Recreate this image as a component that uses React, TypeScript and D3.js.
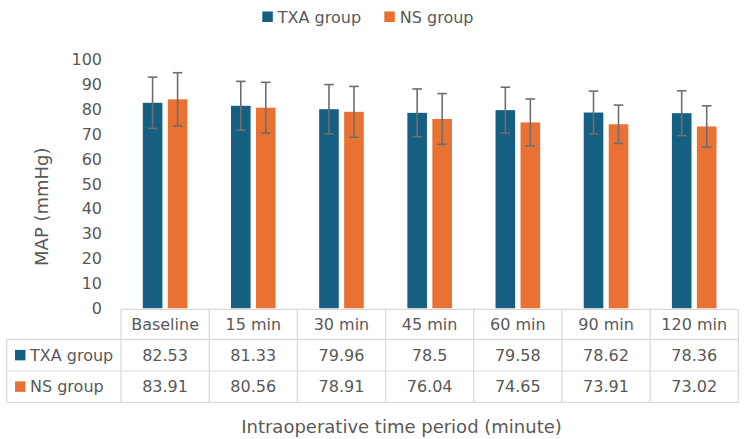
import React from "react";
import * as d3 from "d3";

const categories = ["Baseline", "15 min", "30 min", "45 min", "60 min", "90 min", "120 min"];
const seriesNames = ["TXA group", "NS group"];
const txaMeans = [82.53, 81.33, 79.96, 78.5, 79.58, 78.62, 78.36];
const nsMeans = [83.91, 80.56, 78.91, 76.04, 74.65, 73.91, 73.02];
const txaSD = [10.3, 9.8, 9.9, 9.6, 9.2, 8.6, 9.0];
const nsSD = [10.7, 10.2, 10.2, 10.2, 9.4, 7.7, 8.3];
const yTicks = [0, 10, 20, 30, 40, 50, 60, 70, 80, 90, 100];
const colors = ["#156082", "#E97132"];

const W = 750;
const H = 439;
const FONT = "'DejaVu Sans', sans-serif";
const TXT = "#595959";
const GRID = "#d9d9d9";

export default function App() {
  const plotLeft = 121;
  const plotRight = 738.3;
  const y = d3.scaleLinear().domain([0, 100]).range([308.3, 59.3]);
  const x = d3.scaleBand<string>().domain(categories).range([plotLeft, plotRight]).padding(0);
  const inner = d3
    .scaleBand<string>()
    .domain(seriesNames)
    .range([0, x.bandwidth()])
    .paddingInner(0.216)
    .paddingOuter(0.872);

  const means = [txaMeans, nsMeans];
  const sds = [txaSD, nsSD];

  const tableTop = 309.3;
  const rowTops = [tableTop, 339.3, 371, 402.3];
  const tableLeft = 6.7;

  return (
    <svg
      width={W}
      height={H}
      style={{ position: "absolute", left: 0, top: 0, background: "#fff" }}
      fontFamily={FONT}
    >
      {/* Legend */}
      {seriesNames.map((s, i) => {
        const lx = [262.3, 384.3][i];
        return (
          <g key={s}>
            <rect x={lx} y={11.5} width={10.5} height={10.5} fill={colors[i]} />
            <text x={lx + 15.5} y={22.5} fontSize={16} fill={TXT}>
              {s}
            </text>
          </g>
        );
      })}

      {/* Y ticks */}
      {yTicks.map((t) => (
        <text key={t} x={102} y={y(t)} dy="0.36em" textAnchor="end" fontSize={16} fill={TXT}>
          {t}
        </text>
      ))}

      {/* Y title */}
      <text
        transform={`translate(48,206.7) rotate(-90)`}
        textAnchor="middle"
        fontSize={18}
        fill={TXT}
      >
        MAP (mmHg)
      </text>

      {/* Bars */}
      {seriesNames.map((s, si) =>
        categories.map((c, ci) => {
          const bx = (x(c) as number) + (inner(s) as number);
          const v = means[si][ci];
          return (
            <rect
              key={s + c}
              x={bx}
              y={y(v)}
              width={inner.bandwidth()}
              height={y(0) - y(v)}
              fill={colors[si]}
            />
          );
        })
      )}

      {/* Error bars */}
      {seriesNames.map((s, si) =>
        categories.map((c, ci) => {
          const cx = (x(c) as number) + (inner(s) as number) + inner.bandwidth() / 2;
          const v = means[si][ci];
          const sd = sds[si][ci];
          const y1 = y(v + sd);
          const y2 = y(v - sd);
          return (
            <g key={"e" + s + c} stroke="#6e6e6e" strokeWidth={1.6}>
              <line x1={cx} x2={cx} y1={y1} y2={y2} />
              <line x1={cx - 4.8} x2={cx + 4.8} y1={y1} y2={y1} />
              <line x1={cx - 4.8} x2={cx + 4.8} y1={y2} y2={y2} />
            </g>
          );
        })
      )}

      {/* Table grid */}
      <g stroke={GRID} strokeWidth={1.2} fill="none">
        <line x1={plotLeft} x2={plotRight} y1={rowTops[0]} y2={rowTops[0]} />
        {rowTops.slice(1).map((ry, i) => (
          <line key={i} x1={tableLeft} x2={plotRight} y1={ry} y2={ry} />
        ))}
        <line x1={tableLeft} x2={tableLeft} y1={rowTops[1]} y2={rowTops[3]} />
        {categories.map((c) => (
          <line
            key={c}
            x1={x(c) as number}
            x2={x(c) as number}
            y1={rowTops[0]}
            y2={rowTops[3]}
          />
        ))}
        <line x1={plotRight} x2={plotRight} y1={rowTops[0]} y2={rowTops[3]} />
      </g>

      {/* Table header */}
      {categories.map((c) => (
        <text
          key={"h" + c}
          x={(x(c) as number) + x.bandwidth() / 2}
          y={(rowTops[0] + rowTops[1]) / 2}
          dy="0.36em"
          textAnchor="middle"
          fontSize={16}
          fill={TXT}
        >
          {c}
        </text>
      ))}

      {/* Table rows */}
      {seriesNames.map((s, si) => {
        const cy = (rowTops[si + 1] + rowTops[si + 2]) / 2;
        return (
          <g key={"r" + s}>
            <rect x={15} y={cy - 5.3} width={10.5} height={10.5} fill={colors[si]} />
            <text x={30} y={cy} dy="0.36em" fontSize={16} fill={TXT}>
              {s}
            </text>
            {categories.map((c, ci) => (
              <text
                key={c}
                x={(x(c) as number) + x.bandwidth() / 2}
                y={cy}
                dy="0.36em"
                textAnchor="middle"
                fontSize={16}
                fill={TXT}
              >
                {means[si][ci]}
              </text>
            ))}
          </g>
        );
      })}

      {/* X title */}
      <text x={401.5} y={433} textAnchor="middle" fontSize={18} fill={TXT}>
        Intraoperative time period (minute)
      </text>
    </svg>
  );
}
